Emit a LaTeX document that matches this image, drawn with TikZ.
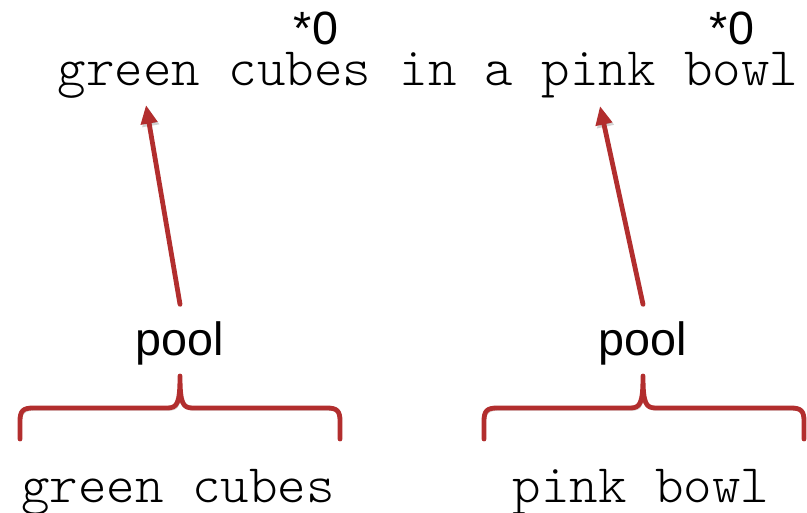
\documentclass[tikz,border=0pt]{standalone}
\usepackage{fontspec}
\setmainfont{Liberation Sans}
\newfontfamily\thinmono{lmmonolt10-regular.otf}
\usetikzlibrary{arrows.meta}
\definecolor{bracered}{RGB}{178,46,46}

\begin{document}
\begin{tikzpicture}[x=0.75pt,y=-0.75pt,
  code/.style={font=\thinmono\fontsize{40.7pt}{44pt}\selectfont,anchor=base,inner sep=0pt},
  lbl/.style={font=\fontsize{35pt}{38pt}\selectfont,anchor=base,inner sep=0pt},
  redline/.style={draw=bracered,line width=3.6pt,line cap=round,line join=round,
    preaction={draw=black,opacity=.18,transform canvas={xshift=1.2pt,yshift=-1.8pt}}},
  ptr/.style={redline,-{Triangle[length=14pt,width=12pt]}}]
  \useasboundingbox (0,0) rectangle (807,512);
  % sentence and marks
  \node[code] (sent) at (428,85) {green cubes in a pink bowl};
  \node[lbl,text depth=0pt] (markA) at (316,44) {*0};
  \node[lbl,text depth=0pt] (markB) at (732,44) {*0};
  \coordinate (tipA) at (146,105);
  \coordinate (tipB) at (600,106);
  % pooled phrases
  \node[lbl] (poolA) at (180,355) {pool};
  \node[lbl] (poolB) at (643,355) {pool};
  \node[code] (phraseA) at (178,502) {green cubes};
  \node[code] (phraseB) at (641,502) {pink bowl};
  \draw[ptr] ([yshift=12.5pt]poolA.north) -- (tipA);
  \draw[ptr] ([yshift=12.5pt]poolB.north) -- (tipB);
  % braces
  \draw[redline] (20,439) -- (20,421) .. controls (20,411) and (23,408) .. (33,408)
    -- (167,408) .. controls (177,408) and (180,404) .. (180,376)
    .. controls (180,404) and (183,408) .. (193,408) -- (327,408)
    .. controls (337,408) and (340,411) .. (340,421) -- (340,439);
  \draw[redline] (484,439) -- (484,421) .. controls (484,411) and (487,408) .. (497,408)
    -- (630,408) .. controls (640,408) and (643,404) .. (643,376)
    .. controls (643,404) and (646,408) .. (656,408) -- (791,408)
    .. controls (801,408) and (804,411) .. (804,421) -- (804,439);
\end{tikzpicture}
\end{document}
